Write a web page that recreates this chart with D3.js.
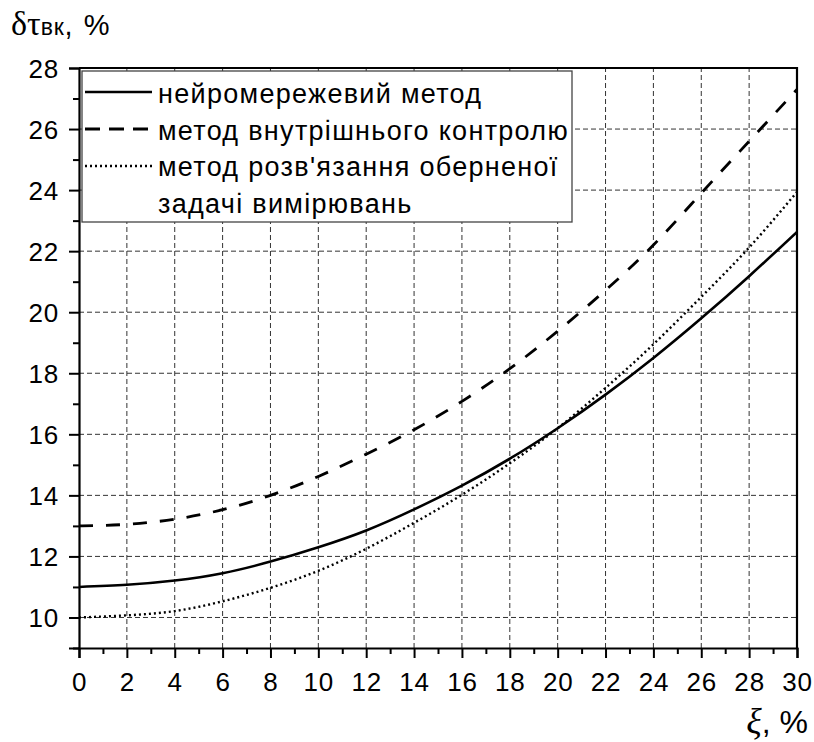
<!DOCTYPE html>
<html>
<head>
<meta charset="utf-8">
<script src="https://cdn.jsdelivr.net/npm/d3@7"></script>
<style>
  html, body { margin: 0; padding: 0; background: #fff; }
  svg { display: block; }
  text { font-family: "Liberation Sans", Arial, sans-serif; fill: #000; }
</style>
</head>
<body>
<svg id="chart" width="814" height="742"></svg>
<script>
// Error of the measured quantity versus the disturbance level ξ, %
const xi = [0, 2, 4, 6, 8, 10, 12, 14, 16, 18, 20, 22, 24, 26, 28, 30];
const neuralNet = [11.0, 11.07, 11.21, 11.45, 11.83, 12.3, 12.85, 13.54, 14.32, 15.2, 16.2, 17.3, 18.5, 19.8, 21.18, 22.63];
const internalControl = [13.0, 13.05, 13.22, 13.53, 14.0, 14.62, 15.35, 16.15, 17.08, 18.15, 19.38, 20.72, 22.2, 23.9, 25.6, 27.3];
const inverseProblem = [10.0, 10.07, 10.21, 10.53, 10.97, 11.53, 12.25, 13.1, 14.02, 15.05, 16.2, 17.52, 18.95, 20.5, 22.12, 23.94];

const xMajor = [0, 2, 4, 6, 8, 10, 12, 14, 16, 18, 20, 22, 24, 26, 28, 30];
const xMinor = [1, 3, 5, 7, 9, 11, 13, 15, 17, 19, 21, 23, 25, 27, 29];
const yMajor = [10, 12, 14, 16, 18, 20, 22, 24, 26, 28];
const yMinor = [9, 11, 13, 15, 17, 19, 21, 23, 25, 27];

const legendLabels = [
  ["нейромережевий метод"],
  ["метод внутрішнього контролю"],
  ["метод розв'язання оберненої", "задачі вимірювань"]
];

const svg = d3.select("#chart");
const W = 814, H = 742;
const m = { left: 79, right: 17, top: 68, bottom: 94 };
const pw = W - m.left - m.right, ph = H - m.top - m.bottom;

const x = d3.scaleLinear().domain([0, 30]).range([m.left, m.left + pw]);
const y = d3.scaleLinear().domain([9, 28]).range([m.top + ph, m.top]);

// grid
const grid = svg.append("g").attr("stroke", "#333").attr("stroke-width", 1)
  .attr("stroke-dasharray", "5,3").attr("fill", "none");
xMajor.filter(v => v > 0 && v < 30).forEach(v => {
  grid.append("line").attr("x1", x(v)).attr("x2", x(v)).attr("y1", y(9)).attr("y2", y(28));
});
yMajor.filter(v => v < 28).forEach(v => {
  grid.append("line").attr("x1", x(0)).attr("x2", x(30)).attr("y1", y(v)).attr("y2", y(v));
});

// curves
svg.append("clipPath").attr("id", "plotClip").append("rect")
  .attr("x", m.left).attr("y", m.top).attr("width", pw).attr("height", ph);

const line = d3.line().x(d => x(d[0])).y(d => y(d[1])).curve(d3.curveNatural);
const series = [
  { values: neuralNet, dash: null, legendDash: null, width: 2.6 },
  { values: internalControl, dash: "14,13", legendDash: "15,9", width: 2.8 },
  { values: inverseProblem, dash: "2,3", legendDash: "2,3", width: 2.4 }
];
const curves = svg.append("g").attr("clip-path", "url(#plotClip)");
series.forEach(s => {
  curves.append("path")
    .datum(xi.map((v, i) => [v, s.values[i]]))
    .attr("d", line)
    .attr("fill", "none")
    .attr("stroke", "#000")
    .attr("stroke-width", s.width)
    .attr("stroke-dasharray", s.dash);
});

// axes
const gx = svg.append("g").attr("transform", `translate(0,${y(9)})`)
  .call(d3.axisBottom(x).tickValues(xMajor).tickSize(10).tickPadding(8).tickFormat(d3.format("d")));
svg.append("g").attr("transform", `translate(0,${y(9)})`)
  .call(d3.axisBottom(x).tickValues(xMinor).tickSize(6).tickFormat(""))
  .select(".domain").remove();
const gy = svg.append("g").attr("transform", `translate(${x(0)},0)`)
  .call(d3.axisLeft(y).tickValues(yMajor).tickSize(10).tickPadding(10).tickFormat(d3.format("d")));
svg.append("g").attr("transform", `translate(${x(0)},0)`)
  .call(d3.axisLeft(y).tickValues(yMinor).tickSize(6).tickFormat(""))
  .select(".domain").remove();

svg.selectAll(".tick line").attr("stroke", "#000").attr("stroke-width", 2);
svg.selectAll(".domain").attr("stroke", "#000").attr("stroke-width", 2.2);
[gx, gy].forEach(g => g.selectAll(".tick text")
  .style("font-size", "26px").style("letter-spacing", "0.8px")
  .style("font-family", "'Liberation Sans', Arial, sans-serif").attr("fill", "#000"));
gx.selectAll(".tick text").attr("dy", "0.95em");
gy.selectAll(".tick text").attr("dy", "0.36em");

// frame top and right
svg.append("path")
  .attr("d", `M${x(0)},${y(28)}H${x(30)}V${y(9)}`)
  .attr("fill", "none").attr("stroke", "#000").attr("stroke-width", 2.2);

// legend
const lg = svg.append("g");
lg.append("rect").attr("x", 82).attr("y", 71).attr("width", 490).attr("height", 151)
  .attr("fill", "#fff").attr("stroke", "#444").attr("stroke-width", 1.3);
const rowY = [92, 129, 166];
const textBase = [103, 140, 176, 213];
series.forEach((s, i) => {
  lg.append("line").attr("x1", 85).attr("x2", 152).attr("y1", rowY[i]).attr("y2", rowY[i])
    .attr("stroke", "#000").attr("stroke-width", s.width)
    .attr("stroke-dasharray", s.legendDash);
});
let k = 0;
legendLabels.forEach(lines => lines.forEach(t => {
  lg.append("text").attr("x", 158).attr("y", textBase[k++])
    .style("font-size", "27px").style("letter-spacing", "1.3px").text(t);
}));

// axis titles
const yt = svg.append("text").attr("x", 11).attr("y", 35);
yt.append("tspan").style("font-family", "'Liberation Serif', 'Times New Roman', serif").style("font-size", "34px").text("δτ");
yt.append("tspan").style("font-size", "23px").style("letter-spacing", "0.8px").text("вк");
yt.append("tspan").style("font-size", "29px").style("letter-spacing", "1.5px").text(", %");

const xt = svg.append("text").attr("x", 808).attr("y", 733).attr("text-anchor", "end");
xt.append("tspan").style("font-family", "'Liberation Serif', 'Times New Roman', serif").style("font-style", "italic").style("font-size", "36px").text("ξ");
xt.append("tspan").style("font-size", "32px").text(", %");
</script>
</body>
</html>
